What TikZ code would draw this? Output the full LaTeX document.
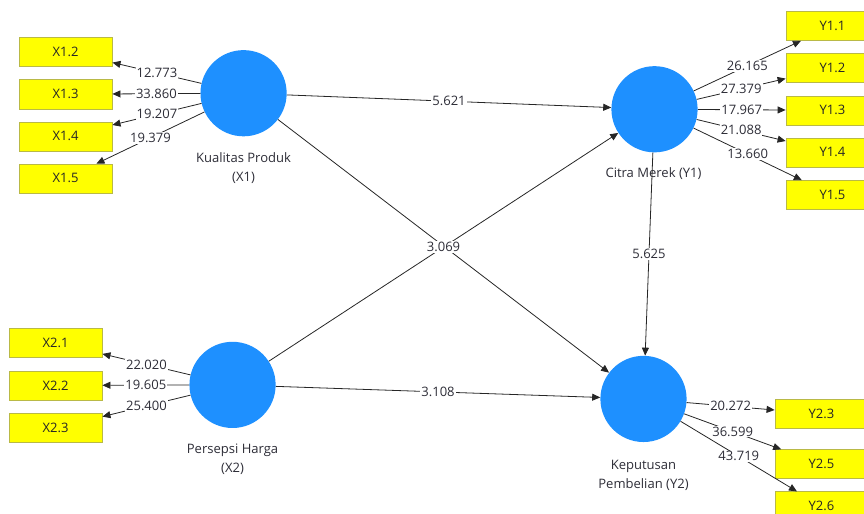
\documentclass[tikz,border=0pt]{standalone}
\usepackage{fontspec}
\setsansfont{Open Sans}
\usetikzlibrary{positioning,arrows.meta}
\definecolor{lvblue}{RGB}{30,144,255}
\definecolor{mvyellow}{RGB}{255,255,0}
\definecolor{mvedge}{RGB}{185,185,70}
\definecolor{txtgray}{RGB}{45,45,55}

\begin{document}
\begin{tikzpicture}[
  x=1pt, y=-1pt,
  every node/.style={font=\sffamily\fontsize{13}{19}\selectfont},
  latent/.style={circle,fill=lvblue,minimum size=86pt,inner sep=0pt},
  lvname/.style={align=center,text=txtgray},
  manifest/.style={draw=mvedge,fill=mvyellow,minimum width=93pt,minimum height=29pt,inner sep=0pt,text=black!85},
  pathc/.style={-{Triangle[length=8pt,width=7pt]},draw=black!85,line width=0.8pt},
  coef/.style={fill=white,inner sep=1pt,text=txtgray}
]
\clip (0,0) rectangle (862,512);

% konstruk laten
\node[latent] (X1) at (243,93) {};
\node[latent] (Y1) at (653,109) {};
\node[latent] (X2) at (232,384) {};
\node[latent] (Y2) at (642,398) {};

\node[lvname] (X1name) at (243,167.5) {Kualitas Produk\\(X1)};
\node[lvname] (Y1name) at (652,173) {Citra Merek (Y1)};
\node[lvname] (X2name) at (232,458) {Persepsi Harga\\(X2)};
\node[lvname] (Y2name) at (642,474) {Keputusan\\Pembelian (Y2)};

% indikator
\foreach \n/\y in {2/51.5,3/94,4/136,5/178}
  \node[manifest] (x1\n) at (65.5,\y) {X1.\n};
\foreach \n/\y in {1/342,2/384.5,3/427}
  \node[manifest] (x2\n) at (55.5,\y) {X2.\n};
\foreach \n/\y in {1/26,2/67.5,3/110,4/152,5/194.5}
  \node[manifest] (y1\n) at (830.5,\y) {Y1.\n};
\foreach \n/\y in {3/413,5/463,6/505}
  \node[manifest] (y2\n) at (819.5,\y) {Y2.\n};

% outer loading
\foreach \n/\v in {2/12.773,3/33.860,4/19.207,5/19.379}
  \draw[pathc] (X1) -- node[coef] {\v} (x1\n);
\foreach \n/\v in {1/22.020,2/19.605,3/25.400}
  \draw[pathc] (X2) -- node[coef] {\v} (x2\n);
\foreach \n/\v in {1/26.165,2/27.379,3/17.967,4/21.088,5/13.660}
  \draw[pathc] (Y1) -- node[coef] {\v} (y1\n);
\foreach \n/\v in {3/20.272,5/36.599,6/43.719}
  \draw[pathc] (Y2) -- node[coef] {\v} (y2\n);

% inner model
\draw[pathc] (X1) -- node[coef] {5.621} (Y1);
\draw[pathc] (X1) -- (Y2);
\draw[pathc] (X2) -- node[coef] {3.069} (Y1);
\draw[pathc] (X2) -- node[coef] {3.108} (Y2);
\draw[pathc] (Y1) -- node[coef] {5.625} (Y2);
\end{tikzpicture}
\end{document}
